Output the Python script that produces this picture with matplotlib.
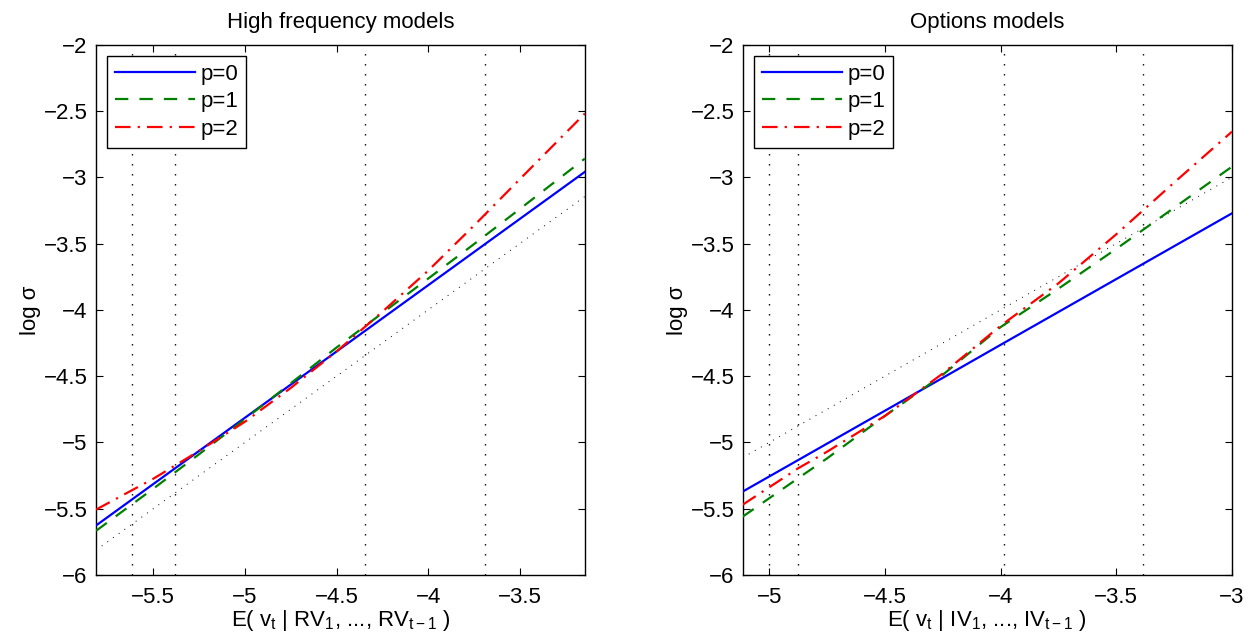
import matplotlib.pyplot as plt

# ============================================================
# DATA
# ============================================================

# --- High frequency models (left panel) ---
hf_x = [-5.8126, -5.5, -5.25, -5.0, -4.75, -4.5, -4.25, -4.0, -3.75, -3.5, -3.145]
hf_p0 = [-5.627, -5.314, -5.064, -4.814, -4.564, -4.314, -4.064, -3.814, -3.564, -3.314, -2.959]
hf_p1 = [-5.667, -5.349, -5.089, -4.824, -4.554, -4.284, -4.024, -3.764, -3.504, -3.239, -2.859]
hf_p2 = [-5.507, -5.274, -5.064, -4.844, -4.589, -4.314, -4.014, -3.704, -3.364, -3.014, -2.519]
hf_diag = [-5.8126, -3.145]
hf_cuts = [-5.618, -5.382, -4.343, -3.691]
hf_xticks = [-5.5, -5.0, -4.5, -4.0, -3.5]

# --- Options models (right panel) ---
op_x = [-5.115, -4.875, -4.75, -4.5, -4.25, -4.0, -3.75, -3.5, -3.25, -3.0]
op_p0 = [-5.371, -5.133, -5.009, -4.761, -4.513, -4.264, -4.016, -3.768, -3.520, -3.272]
op_p1 = [-5.56, -5.27, -5.12, -4.80, -4.49, -4.13, -3.84, -3.54, -3.23, -2.92]
op_p2 = [-5.47, -5.195, -5.07, -4.80, -4.48, -4.12, -3.80, -3.43, -3.04, -2.656]
op_diag = [-5.115, -3.0]
op_cuts = [-5.0, -4.875, -3.986, -3.384]
op_xticks = [-5.0, -4.5, -4.0, -3.5, -3.0]

y_ticks = [-6.0, -5.5, -5.0, -4.5, -4.0, -3.5, -3.0, -2.5, -2.0]
labels = ['p=0', 'p=1', 'p=2']

# ============================================================
# STYLE
# ============================================================

plt.rcParams['font.family'] = ['Liberation Sans', 'DejaVu Sans']
plt.rcParams['mathtext.fontset'] = 'custom'
plt.rcParams['mathtext.rm'] = 'Liberation Sans'
plt.rcParams['mathtext.it'] = 'Liberation Sans'

FS = 16
DOTS = (0, (1, 6.2))


def fmt(v):
    """MATLAB-like tick text with a real minus sign."""
    return ('%g' % v).replace('-', '\u2212')


def draw_panel(ax, x, p0, p1, p2, diag, cuts, xticks, title, xlabel):
    """Draws one panel of the comparison."""
    # quantile markers and 45-degree reference
    for c in cuts:
        ax.axvline(c, color='black', lw=1.0, linestyle=DOTS, zorder=1)
    ax.plot(diag, diag, color='black', lw=0.7, linestyle=DOTS, zorder=1)

    ax.plot(x, p0, color='#0000ff', lw=1.6, label=labels[0], zorder=3)
    ax.plot(x, p1, color='#008000', lw=1.6, linestyle=(0, (6, 5)), label=labels[1], zorder=3)
    ax.plot(x, p2, color='#ff0000', lw=1.6, linestyle=(0, (7, 3.2, 1, 3.2)), label=labels[2], zorder=3)

    ax.set_xlim(x[0], x[-1])
    ax.set_ylim(-6, -2)
    ax.set_xticks(xticks)
    ax.set_xticklabels([fmt(v) for v in xticks])
    ax.set_yticks(y_ticks)
    ax.set_yticklabels([fmt(v) for v in y_ticks])
    ax.tick_params(direction='in', top=True, right=True, length=5, width=0.8,
                   labelsize=FS, pad=6)
    ax.tick_params(axis='x', pad=9)
    for sp in ax.spines.values():
        sp.set_linewidth(1.0)

    ax.set_title(title, fontsize=FS, pad=12)
    ax.set_xlabel(xlabel, fontsize=FS, labelpad=0)
    ax.set_ylabel('log \u03c3', fontsize=FS, labelpad=2)

    leg = ax.legend(loc='upper left', fontsize=FS, frameon=True, fancybox=False,
                    handlelength=3.6, handletextpad=0.25, borderpad=0.35,
                    labelspacing=0.3, borderaxespad=0.5)
    leg.get_frame().set_edgecolor('black')
    leg.get_frame().set_linewidth(1.0)
    leg.get_frame().set_alpha(1.0)


# ============================================================
# FIGURE
# ============================================================

fig = plt.figure(figsize=(12.52, 6.43), dpi=100)
ax1 = fig.add_axes([0.0767, 0.1058, 0.3905, 0.8247])
ax2 = fig.add_axes([0.5932, 0.1058, 0.3908, 0.8247])

draw_panel(ax1, hf_x, hf_p0, hf_p1, hf_p2, hf_diag, hf_cuts, hf_xticks,
           'High frequency models',
           r'E( v$_{t}$ | RV$_{1}$, ..., RV$_{t-1}$ )')
draw_panel(ax2, op_x, op_p0, op_p1, op_p2, op_diag, op_cuts, op_xticks,
           'Options models',
           r'E( v$_{t}$ | IV$_{1}$, ..., IV$_{t-1}$ )')

fig.savefig('out.png', dpi=100)
